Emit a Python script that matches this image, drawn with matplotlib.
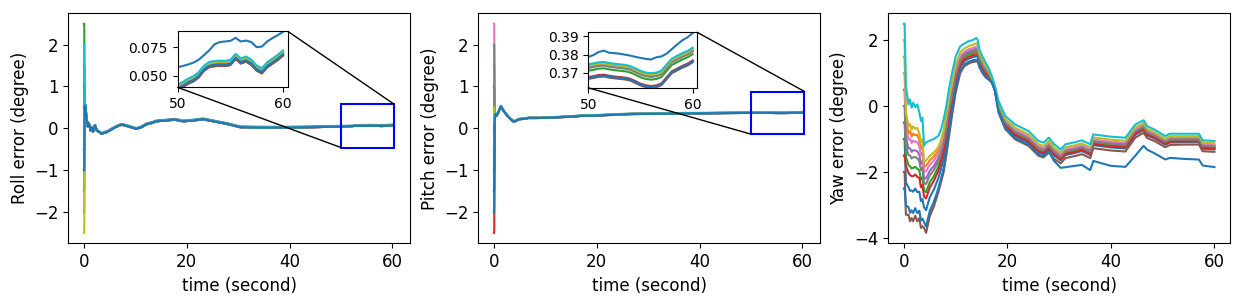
import matplotlib
matplotlib.use("Agg")
import matplotlib.pyplot as plt
from matplotlib.patches import Rectangle, ConnectionPatch

plt.rcParams['font.family'] = ['DejaVu Sans']
plt.rcParams['font.size'] = 12

# ---------------- data ----------------
# initial errors of the 11 runs (degree), in color-cycle order
roll_init = [1.0, -2.0, 2.5, -0.5, 1.5, 0.5, 0.0, -1.5, -2.5, 2.0, -1.0]
pitch_init = [-1.5, 1.5, -1.0, -2.5, 0.0, 1.0, 2.5, 2.0, 0.5, -0.5, -2.0]
yaw_init = [-1.0, 1.5, -0.5, -1.5, 0.5, -2.0, 1.0, 0.0, 2.0, 2.5, -2.5]
init_hold = [0.0, 0.08]

# roll
roll_time_head = [0.15, 0.2, 0.3, 0.4, 0.5, 0.6, 0.75, 0.9, 1.1, 1.3,
                  1.5, 1.8, 2.0, 2.2, 2.5, 2.9, 3.5, 4.0, 4.4, 5.0,
                  5.7, 6.5, 7.3, 8.0, 8.6, 9.4, 10.2, 11.2, 12.2, 13.2,
                  14.1, 15.0, 16.1, 17.7, 19.3, 21.3, 23.2, 25.2, 27.8, 30.4,
                  34.3, 39.5, 44.7, 48.0]
roll_common_head = [0.30, 0.45, 0.55, 0.42, 0.25, 0.19, 0.05, 0.12, 0.07, -0.05,
                    0.02, -0.08, 0.03, 0.07, -0.05, -0.08, -0.13, -0.10, -0.09, -0.05,
                    0.0, 0.05, 0.09, 0.07, 0.05, 0.02, -0.01, 0.03, 0.10, 0.13,
                    0.17, 0.18, 0.19, 0.21, 0.17, 0.19, 0.22, 0.17, 0.11, 0.03,
                    0.02, 0.02, 0.03, 0.04]
tail_time = [50.0, 50.5, 51.0, 51.5, 52.0, 52.5, 53.0, 53.5, 54.0, 54.5, 55.0,
             55.5, 56.0, 56.5, 57.0, 57.5, 58.0, 58.5, 59.0, 59.5, 60.0]
roll_common_tail = [0.0418, 0.0445, 0.0475, 0.0495, 0.0530, 0.0588, 0.0620, 0.0628,
                    0.0632, 0.0630, 0.0638, 0.0691, 0.0652, 0.0668, 0.0640, 0.0590,
                    0.0565, 0.0618, 0.0650, 0.0682, 0.0721]
roll_outlier_tail = [0.0574, 0.0585, 0.0598, 0.0615, 0.0640, 0.0680, 0.0722, 0.0775,
                     0.0795, 0.0800, 0.0805, 0.0832, 0.0800, 0.0808, 0.0795, 0.0750,
                     0.0755, 0.0800, 0.0830, 0.0855, 0.0885]
roll_offset = [0.016, -0.002, -0.002, -0.0045, -0.0025, -0.0045, -0.002, -0.003, -0.001, 0.0, -0.0035]

# pitch
pitch_time_head = [0.15, 0.25, 0.35, 0.5, 0.65, 0.8, 1.0, 1.2, 1.4, 1.7,
                   2.0, 2.4, 2.8, 3.3, 3.9, 4.4, 4.9, 5.8, 6.8, 8.5,
                   11.4, 14.6, 17.0, 19.9, 22.0, 24.4, 27.0, 30.3, 34.2, 37.0,
                   40.7, 44.0, 47.0, 48.5]
pitch_common_head = [0.15, 0.30, 0.35, 0.30, 0.33, 0.36, 0.42, 0.48, 0.53, 0.46,
                     0.40, 0.34, 0.28, 0.22, 0.16, 0.19, 0.22, 0.23, 0.25, 0.25,
                     0.26, 0.28, 0.30, 0.31, 0.32, 0.335, 0.345, 0.35, 0.355, 0.36,
                     0.362, 0.366, 0.37, 0.372]
pitch_common_tail = [0.3727, 0.3732, 0.3738, 0.3740, 0.3734, 0.3730, 0.3727, 0.3724,
                     0.3718, 0.3705, 0.3691, 0.3682, 0.3678, 0.3681, 0.3692, 0.3725,
                     0.3758, 0.3773, 0.3788, 0.3800, 0.3818]
pitch_outlier_tail = [0.3787, 0.3798, 0.3815, 0.3822, 0.3810, 0.3808, 0.3805, 0.3800,
                      0.3795, 0.3788, 0.3782, 0.3777, 0.3773, 0.3785, 0.3790, 0.3805,
                      0.3830, 0.3855, 0.3878, 0.3895, 0.3918]
pitch_offset = [0.007, 0.0005, -0.0015, -0.005, 0.0003, -0.006, 0.001, 0.0, 0.0012, 0.002, -0.0055]

# yaw
yaw_time = [0.4, 0.9, 1.2, 1.5, 1.8, 2.2, 2.6, 3.0, 3.3, 3.6,
            3.9, 4.3, 5.0, 5.8, 6.7, 7.2, 7.7, 8.2, 8.7, 9.3,
            10.0, 10.9, 11.7, 12.5, 13.3, 14.0, 14.3, 14.6, 15.2, 15.8,
            16.4, 17.0, 17.6, 18.3, 19.6, 21.5, 24.1, 26.0, 27.0, 28.0,
            29.0, 30.3, 31.2, 33.0, 34.4, 36.0, 36.6, 40.0, 42.8, 44.7,
            46.3, 47.0, 48.5, 50.5, 51.4, 54.0, 57.0, 57.7, 60.0]
yaw_top = [0.6, 0.05, 0.2, -0.05, 0.1, -0.03, 0.05, -0.2, -0.45, -0.35,
           -1.2, -1.1, -1.05, -1.0, -0.9, -0.7, -0.4, 0.0, 0.5, 1.0,
           1.5, 1.82, 1.9, 1.97, 2.0, 2.07, 2.0, 1.72, 1.5, 1.32,
           1.15, 0.91, 0.6, 0.15, -0.3, -0.56, -0.76, -1.06, -1.11, -0.96,
           -1.15, -1.32, -1.16, -1.10, -1.04, -1.16, -0.86, -0.93, -0.96, -0.56,
           -0.43, -0.61, -0.72, -0.91, -0.84, -0.84, -0.84, -1.04, -1.06]
yaw_spread = [3.9, 3.35, 3.7, 3.35, 3.6, 3.3, 3.55, 3.2, 3.25, 3.3,
              2.5, 2.75, 2.3, 2.05, 1.7, 1.6, 1.6, 1.5, 1.45, 1.3,
              1.1, 0.81, 0.69, 0.68, 0.66, 0.72, 0.65, 0.55, 0.5, 0.45,
              0.35, 0.2, 0.15, 0.35, 0.4, 0.45, 0.45, 0.45, 0.45, 0.45,
              0.45, 0.42, 0.42, 0.42, 0.42, 0.42, 0.42, 0.42, 0.42, 0.4,
              0.38, 0.36, 0.35, 0.34, 0.34, 0.33, 0.33, 0.33, 0.33]
yaw_outlier_drop = [0.0] * 40 + [0.1, 0.17, 0.31, 0.33, 0.36, 0.4, 0.42, 0.5, 0.5, 0.58,
                                 0.43, 0.38, 0.4, 0.4, 0.42, 0.46, 0.48, 0.46, 0.49]
yaw_frac_early = [0.75, 0.26, 0.55, 0.62, 0.4, 1.0, 0.32, 0.46, 0.2, 0.0, 0.93]
yaw_frac_late = [0.78, 0.62, 0.58, 0.70, 0.45, 1.0, 0.36, 0.52, 0.22, 0.0, 0.92]
yaw_outlier = 10

colors = plt.rcParams['axes.prop_cycle'].by_key()['color']


def rp_series(init, offset, head_t, head_c, tail_c, out_tail):
    t = init_hold + head_t + tail_time
    out = []
    for i, v0 in enumerate(init):
        body = [c + offset[i] for c in head_c]
        if i == 0:
            body += out_tail
        else:
            body += [c + offset[i] for c in tail_c]
        out.append((t, [v0, v0] + body))
    return out


roll_series = rp_series(roll_init, roll_offset, roll_time_head, roll_common_head,
                        roll_common_tail, roll_outlier_tail)
pitch_series = rp_series(pitch_init, pitch_offset, pitch_time_head, pitch_common_head,
                         pitch_common_tail, pitch_outlier_tail)

yaw_series = []
yt = [0.0, 0.15] + yaw_time
for i, v0 in enumerate(yaw_init):
    vals = [v0, v0]
    for k, tk in enumerate(yaw_time):
        f = yaw_frac_early[i] if tk < 9 else yaw_frac_late[i]
        v = yaw_top[k] - f * yaw_spread[k]
        if i == yaw_outlier:
            v -= yaw_outlier_drop[k]
        vals.append(v)
    yaw_series.append((yt, vals))

# ---------------- figure ----------------
fig = plt.figure(figsize=(12.43, 3.05), dpi=100)
W = 341.7 / 1243
H = 230.0 / 305
B = (305 - 243.3) / 305
lefts = [68.3 / 1243, 478.3 / 1243, 888.3 / 1243]
axes = [fig.add_axes([l, B, W, H]) for l in lefts]

ylabels = ["Roll error (degree)", "Pitch error (degree)", "Yaw error (degree)"]
for ax, series, lab in zip(axes, [roll_series, pitch_series, yaw_series], ylabels):
    for i, (t, v) in enumerate(series):
        ax.plot(t, v, color=colors[i % 10], lw=1.5)
    ax.set_xlabel("time (second)")
    ax.set_ylabel(lab)
    ax.set_xticks([0, 20, 40, 60])

axes[0].set_yticks([-2, -1, 0, 1, 2])
axes[1].set_yticks([-2, -1, 0, 1, 2])
axes[2].set_yticks([-4, -2, 0, 2])

inset_cfg = [
    (axes[0], roll_series, [0.320, 0.678, 0.323, 0.243], (50, 60.48), (0.0397, 0.0888),
     [0.050, 0.075], ["0.050", "0.075"], (-0.46, 0.57)),
    (axes[1], pitch_series, [0.322, 0.676, 0.319, 0.241], (50, 60.45), (0.3618, 0.3922),
     [0.37, 0.38, 0.39], ["0.37", "0.38", "0.39"], (-0.14, 0.88)),
]
for ax, series, rect, xl, yl, yt_, ytl, (rb, rt) in inset_cfg:
    axins = ax.inset_axes(rect)
    for i, (t, v) in enumerate(series):
        axins.plot(t, v, color=colors[i % 10], lw=1.5)
    axins.set_xlim(*xl)
    axins.set_ylim(*yl)
    axins.set_xticks([50, 60])
    axins.set_yticks(yt_)
    axins.set_yticklabels(ytl)
    axins.tick_params(labelsize=10)
    ax.add_patch(Rectangle((50, rb), 10.4, rt - rb, fill=False, ec='blue', lw=1.5, zorder=5))
    ax.set_xlim(-3.02, 63.42)
    ax.set_ylim(-2.75, 2.75)
    c1 = ConnectionPatch(xyA=(1, 1), coordsA=axins.transAxes, xyB=(60.4, rt),
                         coordsB=ax.transData, color='k', lw=1)
    c2 = ConnectionPatch(xyA=(0, 0), coordsA=axins.transAxes, xyB=(50, rb),
                         coordsB=ax.transData, color='k', lw=1)
    fig.add_artist(c1)
    fig.add_artist(c2)

axes[2].set_xlim(-3, 63)

fig.savefig("out.png", dpi=100)
